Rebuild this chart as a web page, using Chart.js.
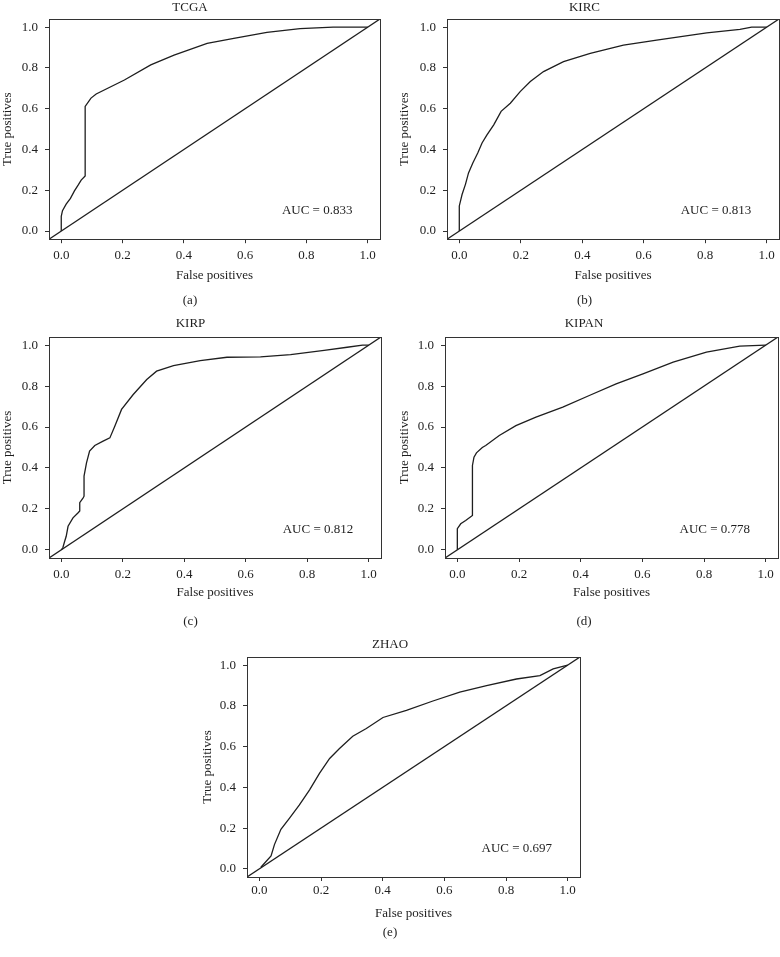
<!DOCTYPE html>
<html>
<head>
<meta charset="utf-8">
<script src="https://cdn.jsdelivr.net/npm/chart.js@4.4.0/dist/chart.umd.min.js"></script>
<style>
  body { margin: 0; background: #fff; width: 780px; height: 957px; position: relative; overflow: hidden; }
  canvas { position: absolute; }
</style>
</head>
<body>
<canvas id="chartA"></canvas>
<canvas id="chartB"></canvas>
<canvas id="chartC"></canvas>
<canvas id="chartD"></canvas>
<canvas id="chartE"></canvas>
<script>
// ROC curves (false positive rate / true positive rate)
var tcgaFpr = [0, 0, 0.004, 0.016, 0.03, 0.043, 0.055, 0.065, 0.078, 0.078, 0.097, 0.114, 0.206, 0.292, 0.368, 0.476, 0.563, 0.671, 0.779, 0.887, 1.0];
var tcgaTpr = [0, 0.072, 0.1, 0.132, 0.16, 0.197, 0.225, 0.25, 0.27, 0.611, 0.652, 0.672, 0.741, 0.815, 0.863, 0.92, 0.945, 0.974, 0.993, 1.0, 1.0];

var kircFpr = [0, 0, 0.009, 0.02, 0.03, 0.044, 0.06, 0.074, 0.09, 0.112, 0.136, 0.166, 0.198, 0.231, 0.274, 0.339, 0.426, 0.534, 0.642, 0.805, 0.913, 0.951, 1.0];
var kircTpr = [0, 0.123, 0.179, 0.229, 0.285, 0.334, 0.383, 0.432, 0.472, 0.521, 0.587, 0.627, 0.684, 0.733, 0.782, 0.831, 0.871, 0.912, 0.936, 0.972, 0.989, 1.0, 1.0];

var kirpFpr = [0, 0.005, 0.011, 0.016, 0.022, 0.038, 0.054, 0.06, 0.06, 0.071, 0.074, 0.074, 0.082, 0.092, 0.109, 0.136, 0.158, 0.174, 0.196, 0.234, 0.278, 0.31, 0.365, 0.452, 0.539, 0.648, 0.746, 0.855, 0.93, 0.98, 1.0];
var kirpTpr = [0, 0.01, 0.042, 0.066, 0.115, 0.156, 0.18, 0.19, 0.23, 0.254, 0.262, 0.36, 0.425, 0.482, 0.51, 0.531, 0.547, 0.604, 0.686, 0.759, 0.832, 0.873, 0.9, 0.925, 0.941, 0.943, 0.954, 0.975, 0.99, 1.0, 1.0];

var kipanFpr = [0, 0, 0.011, 0.027, 0.049, 0.049, 0.054, 0.062, 0.081, 0.092, 0.136, 0.19, 0.255, 0.342, 0.428, 0.515, 0.602, 0.7, 0.808, 0.916, 1.0];
var kipanTpr = [0, 0.103, 0.127, 0.143, 0.168, 0.412, 0.453, 0.474, 0.5, 0.51, 0.559, 0.607, 0.648, 0.697, 0.754, 0.811, 0.86, 0.917, 0.966, 0.995, 1.0];

var zhaoFpr = [0.005, 0.038, 0.049, 0.07, 0.098, 0.13, 0.163, 0.195, 0.228, 0.26, 0.303, 0.347, 0.401, 0.477, 0.563, 0.65, 0.737, 0.834, 0.91, 0.953, 1.0];
var zhaoTpr = [0.008, 0.063, 0.119, 0.194, 0.249, 0.314, 0.388, 0.469, 0.542, 0.591, 0.651, 0.689, 0.743, 0.778, 0.824, 0.868, 0.9, 0.932, 0.949, 0.982, 1.0];

// reference diagonal, drawn across the whole (R-style, 4% padded) axis range
var diagX = [-0.04, 1.04];
var diagY = [-0.04, 1.04];

var axisTicks = [0, 0.2, 0.4, 0.6, 0.8, 1.0];
var titles = ["TCGA", "KIRC", "KIRP", "KIPAN", "ZHAO"];
var captions = ["(a)", "(b)", "(c)", "(d)", "(e)"];
var aucLabels = ["AUC = 0.833", "AUC = 0.813", "AUC = 0.812", "AUC = 0.778", "AUC = 0.697"];

var FONT = "'Liberation Serif', 'Times New Roman', serif";
var INK = "#1e1e1e";

function toPoints(xs, ys) {
    var pts = [];
    for (var i = 0; i < xs.length; i++) {
        pts.push({ x: xs[i], y: ys[i] });
    }
    return pts;
}

// box round the plot + AUC text
var framePlugin = {
    id: "frame",
    afterDatasetsDraw: function(chart, args, opts) {
        var a = chart.chartArea;
        var ctx = chart.ctx;
        ctx.save();
        ctx.strokeStyle = "#333";
        ctx.lineWidth = 1;
        ctx.strokeRect(Math.round(a.left) + 0.5, Math.round(a.top) + 0.5,
            Math.round(a.right - a.left), Math.round(a.bottom - a.top));
        var xs = chart.scales.x, ys = chart.scales.y;
        ctx.fillStyle = INK;
        ctx.font = "13px " + FONT;
        ctx.textAlign = "center";
        ctx.textBaseline = "middle";
        ctx.fillText(opts.text, xs.getPixelForValue(0.835), ys.getPixelForValue(0.1));
        ctx.restore();
    }
};

function makeChart(id, box, title, caption, auc, fpr, tpr) {
    var canvas = document.getElementById(id);
    canvas.width = box.w;
    canvas.height = box.h;
    canvas.style.left = box.left + "px";
    canvas.style.top = box.top + "px";

    new Chart(canvas, {
        type: "line",
        data: {
            datasets: [{
                data: toPoints(fpr, tpr),
                borderColor: INK,
                borderWidth: 1.3,
                pointRadius: 0,
                tension: 0
            }, {
                data: toPoints(diagX, diagY),
                borderColor: INK,
                borderWidth: 1.3,
                pointRadius: 0
            }]
        },
        options: {
            responsive: false,
            animation: false,
            events: [],
            layout: { padding: { top: 0, left: 0, bottom: 0, right: box.padRight } },
            scales: {
                x: {
                    type: "linear",
                    min: -0.04,
                    max: 1.04,
                    afterBuildTicks: function(scale) {
                        scale.ticks = axisTicks.map(function(v) { return { value: v }; });
                    },
                    afterFit: function(scale) { scale.height = box.xHeight; },
                    grid: { display: true, drawOnChartArea: false, drawTicks: true, tickLength: 4, color: "#333", tickColor: "#333" },
                    border: { display: false },
                    ticks: {
                        color: INK,
                        padding: box.xTickPad,
                        maxRotation: 0,
                        font: { family: FONT, size: 13 },
                        callback: function(v) { return Number(v).toFixed(1); }
                    },
                    title: {
                        display: true,
                        text: "False positives",
                        color: INK,
                        font: { family: FONT, size: 13 },
                        padding: { top: 0, bottom: box.xTitlePad }
                    }
                },
                y: {
                    type: "linear",
                    min: -0.04,
                    max: 1.04,
                    afterBuildTicks: function(scale) {
                        scale.ticks = axisTicks.map(function(v) { return { value: v }; });
                    },
                    afterFit: function(scale) { scale.width = box.yWidth; },
                    grid: { display: true, drawOnChartArea: false, drawTicks: true, tickLength: 4, color: "#333", tickColor: "#333" },
                    border: { display: false },
                    ticks: {
                        color: INK,
                        padding: 7,
                        font: { family: FONT, size: 13 },
                        callback: function(v) { return Number(v).toFixed(1); }
                    },
                    title: {
                        display: true,
                        text: "True positives",
                        color: INK,
                        font: { family: FONT, size: 13 },
                        padding: { top: box.yTitlePad, bottom: 0 }
                    }
                }
            },
            plugins: {
                legend: { display: false },
                tooltip: { enabled: false },
                title: {
                    display: true,
                    text: title,
                    color: INK,
                    font: { family: FONT, size: 13, weight: "normal" },
                    padding: { top: 0, bottom: box.titlePad }
                },
                subtitle: {
                    display: true,
                    position: "bottom",
                    text: caption,
                    color: INK,
                    font: { family: FONT, size: 13, weight: "normal" },
                    padding: 0
                },
                frame: { text: auc }
            }
        },
        plugins: [framePlugin]
    });
}

// canvas placement for each panel
var boxes = [
    { left: 0,   top: 0,   w: 390, h: 308, padRight: 10, yWidth: 49, yTitlePad: 0, xHeight: 53.2, xTickPad: 5, xTitlePad: 9.4, titlePad: 3.4 },
    { left: 390, top: 0,   w: 395, h: 308, padRight: 6,  yWidth: 57, yTitlePad: 7, xHeight: 53.2, xTickPad: 5, xTitlePad: 9.4, titlePad: 3.4 },
    { left: 0,   top: 316, w: 390, h: 313, padRight: 9,  yWidth: 49, yTitlePad: 0, xHeight: 55.4, xTickPad: 5, xTitlePad: 12.6, titlePad: 5.4 },
    { left: 390, top: 316, w: 395, h: 313, padRight: 7,  yWidth: 55, yTitlePad: 7, xHeight: 55.4, xTickPad: 5, xTitlePad: 12.6, titlePad: 5.4 },
    { left: 200, top: 637, w: 390, h: 303, padRight: 10, yWidth: 47, yTitlePad: 0, xHeight: 47.4, xTickPad: 2, xTitlePad: 2.6, titlePad: 4.4 }
];

makeChart("chartA", boxes[0], titles[0], captions[0], aucLabels[0], tcgaFpr, tcgaTpr);
makeChart("chartB", boxes[1], titles[1], captions[1], aucLabels[1], kircFpr, kircTpr);
makeChart("chartC", boxes[2], titles[2], captions[2], aucLabels[2], kirpFpr, kirpTpr);
makeChart("chartD", boxes[3], titles[3], captions[3], aucLabels[3], kipanFpr, kipanTpr);
makeChart("chartE", boxes[4], titles[4], captions[4], aucLabels[4], zhaoFpr, zhaoTpr);
</script>
</body>
</html>
